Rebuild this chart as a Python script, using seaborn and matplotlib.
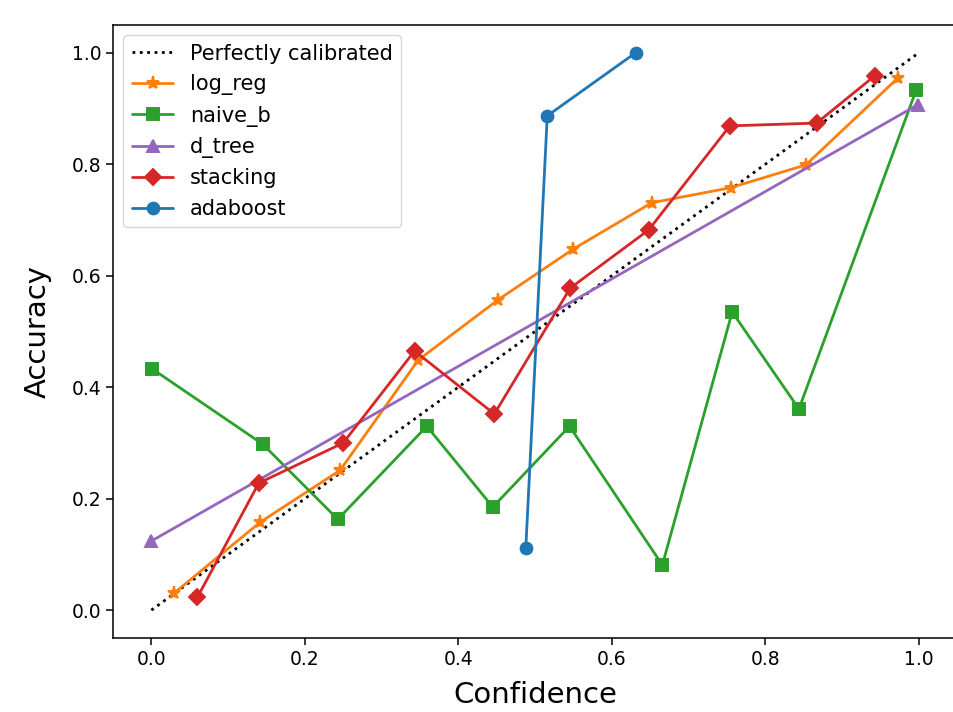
import numpy as np
import pandas as pd
import matplotlib
matplotlib.use("Agg")
import matplotlib.pyplot as plt
import seaborn as sns

# ---- data ----
perfect_x = [0.0, 1.0]
perfect_y = [0.0, 1.0]

log_reg_x = [0.030, 0.142, 0.246, 0.348, 0.452, 0.550, 0.652, 0.755, 0.853, 0.973]
log_reg_y = [0.031, 0.158, 0.251, 0.449, 0.557, 0.648, 0.731, 0.758, 0.799, 0.955]

naive_b_x = [0.001, 0.145, 0.243, 0.359, 0.445, 0.545, 0.666, 0.757, 0.844, 0.997]
naive_b_y = [0.433, 0.298, 0.163, 0.330, 0.185, 0.330, 0.081, 0.535, 0.361, 0.934]

d_tree_x = [0.0, 0.999]
d_tree_y = [0.124, 0.907]

stacking_x = [0.060, 0.140, 0.250, 0.343, 0.447, 0.546, 0.648, 0.754, 0.867, 0.943]
stacking_y = [0.023, 0.228, 0.300, 0.465, 0.352, 0.578, 0.682, 0.869, 0.874, 0.959]

adaboost_x = [0.488, 0.516, 0.631]
adaboost_y = [0.111, 0.887, 1.000]

series_names = ["log_reg", "naive_b", "d_tree", "stacking", "adaboost"]
series_x = [log_reg_x, naive_b_x, d_tree_x, stacking_x, adaboost_x]
series_y = [log_reg_y, naive_b_y, d_tree_y, stacking_y, adaboost_y]

# ---- style ----
sns.set_style("ticks")
plt.rcParams["font.family"] = ["DejaVu Sans"]
plt.rcParams["text.color"] = "black"
plt.rcParams["axes.labelcolor"] = "black"
plt.rcParams["xtick.color"] = "black"
plt.rcParams["ytick.color"] = "black"
plt.rcParams["axes.edgecolor"] = "black"

colors = {"log_reg": "#ff7f0e", "naive_b": "#2ca02c", "d_tree": "#9467bd",
          "stacking": "#d62728", "adaboost": "#1f77b4"}
markers = {"log_reg": "*", "naive_b": "s", "d_tree": "^", "stacking": "D", "adaboost": "o"}

fig = plt.figure(figsize=(9.54, 7.12), dpi=100)
W, H = 954, 712
left, right, top, bottom = 113, 957, 25, 638
ax = fig.add_axes([left / W, 1 - bottom / H, (right - left) / W, (bottom - top) / H])

lw = 2.0
sns.lineplot(x=perfect_x, y=perfect_y, ax=ax, color="black", linestyle=":",
             linewidth=lw, label="Perfectly calibrated")

for name, xs, ys in zip(series_names, series_x, series_y):
    df = pd.DataFrame({"x": xs, "y": ys})
    c = colors[name]
    m = markers[name]
    ms = 9.5 if m == "*" else 8.5
    sns.lineplot(data=df, x="x", y="y", ax=ax, color=c, marker=m, markersize=ms,
                 markeredgecolor=c, markeredgewidth=1.4, linewidth=lw, label=name,
                 sort=False)

ax.set_xlim(-0.05, 1.05)
ax.set_ylim(-0.05, 1.05)
ax.set_xticks([0.0, 0.2, 0.4, 0.6, 0.8, 1.0])
ax.set_yticks([0.0, 0.2, 0.4, 0.6, 0.8, 1.0])
ax.tick_params(labelsize=13.5, length=5, width=1.1)
for s in ax.spines.values():
    s.set_linewidth(1.1)
ax.spines["right"].set_visible(False)
ax.set_xlabel("Confidence", fontsize=21, labelpad=9)
ax.set_ylabel("Accuracy", fontsize=21, labelpad=14)

leg = ax.legend(loc="upper left", fontsize=15, frameon=True)

fig.savefig("out.png", dpi=100)
